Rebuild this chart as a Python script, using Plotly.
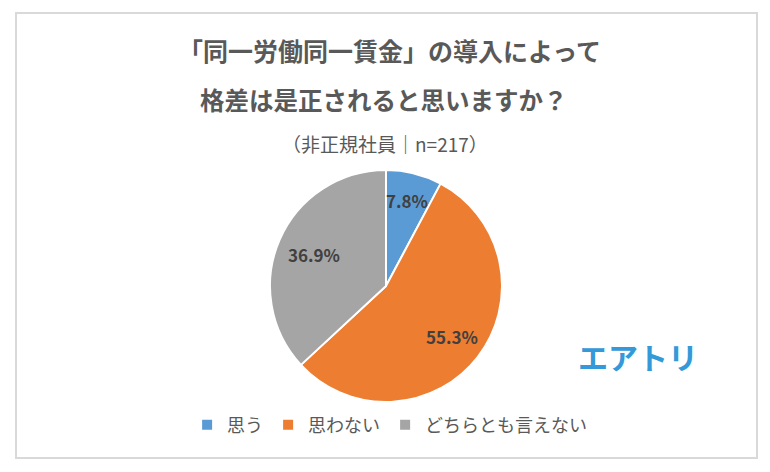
import math
import plotly.graph_objects as go

labels = ["思う", "思わない", "どちらとも言えない"]
values = [7.8, 55.3, 36.9]
colors = ["#5B9BD5", "#ED7D31", "#A5A5A5"]
title_lines = ["「同一労働同一賃金」の導入によって", "格差は是正されると思いますか？"]
subtitle = "（非正規社員｜n=217）"
logo = "エアトリ"

W, H = 770, 472
FONT = "Noto Sans CJK JP"

# pie geometry (pixels)
cx, cy, R = 386, 286, 116

fig = go.Figure()
fig.add_trace(go.Pie(
    labels=labels, values=values, sort=False, direction="clockwise", rotation=0,
    marker=dict(colors=colors, line=dict(color="white", width=2)),
    textinfo="none", hoverinfo="label+percent",
    domain=dict(x=[(cx - R) / W, (cx + R) / W], y=[1 - (cy + R) / H, 1 - (cy - R) / H]),
))

annotations = []
# percentage labels computed from data
total = sum(values)
cum = 0
radii = [0.76, 0.72, 0.68]
for v, rf in zip(values, radii):
    mid = (cum + v / 2) / total * 2 * math.pi
    cum += v
    px = cx + rf * R * math.sin(mid)
    py = cy - rf * R * math.cos(mid)
    annotations.append(dict(
        x=px / W, y=1 - py / H, xref="paper", yref="paper",
        text=f"<b>{v:.1f}%</b>", showarrow=False,
        font=dict(family=FONT, size=17, color="#404040"),
        xanchor="center", yanchor="middle"))

annotations.append(dict(x=389 / W, y=1 - 50 / H, xref="paper", yref="paper",
                        text=f"<b>{title_lines[0]}</b>", showarrow=False,
                        font=dict(family=FONT, size=25, color="#595959"),
                        xanchor="center", yanchor="middle"))
annotations.append(dict(x=384 / W, y=1 - 99 / H, xref="paper", yref="paper",
                        text=f"<b>{title_lines[1]}</b>", showarrow=False,
                        font=dict(family=FONT, size=24.5, color="#595959"),
                        xanchor="center", yanchor="middle"))
annotations.append(dict(x=385 / W, y=1 - 143 / H, xref="paper", yref="paper",
                        text=subtitle, showarrow=False,
                        font=dict(family=FONT, size=19, color="#595959"),
                        xanchor="center", yanchor="middle"))
annotations.append(dict(x=638 / W, y=1 - 356 / H, xref="paper", yref="paper",
                        text=f"<b>{logo}</b>", showarrow=False,
                        font=dict(family=FONT, size=30, color="#3399D9"),
                        xanchor="center", yanchor="middle"))

fig.update_layout(
    width=W, height=H,
    margin=dict(l=0, r=0, t=0, b=0),
    paper_bgcolor="white", plot_bgcolor="white",
    showlegend=True,
    legend=dict(orientation="h", x=0.506, xanchor="center", y=1 - 425 / H, yanchor="middle",
                font=dict(family=FONT, size=18, color="#595959"),
                itemwidth=30, bgcolor="rgba(0,0,0,0)"),
    annotations=annotations,
    shapes=[dict(type="rect", xref="paper", yref="paper",
                 x0=16 / W, x1=757 / W, y0=1 - 458 / H, y1=1 - 13 / H,
                 line=dict(color="#D9D9D9", width=2), fillcolor="rgba(0,0,0,0)", layer="below")],
)

fig.write_html("out.html")
